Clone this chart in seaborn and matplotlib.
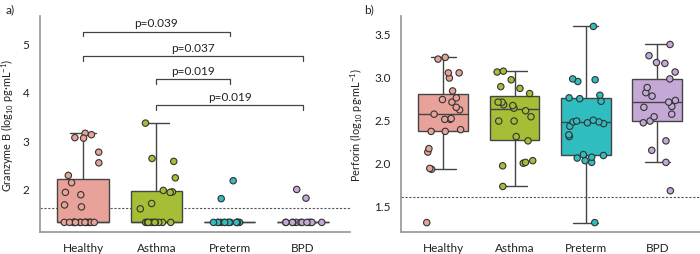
import numpy as np
import pandas as pd
import seaborn as sns
import matplotlib.pyplot as plt

# ------------------------------------------------------------
# data (log10 pg/mL)
# ------------------------------------------------------------
groups = ['Healthy', 'Asthma', 'Preterm', 'BPD']
colors = ['#E9A29A', '#A4BE36', '#2FBDBF', '#C4A8D6']

# panel a) granzyme B
gzb_healthy = [3.14, 3.11, 3.05, 3.04, 2.75, 2.53, 2.27, 2.12, 1.92, 1.87, 1.66, 1.62] + [1.3] * 15
gzb_asthma = [3.35, 2.62, 2.56, 2.22, 1.96, 1.93, 1.92, 1.69, 1.58] + [1.3] * 10
gzb_preterm = [2.16, 1.79] + [1.3] * 14
gzb_bpd = [1.98, 1.80] + [1.3] * 12

# panel b) perforin
prf_healthy = [1.30, 1.92, 1.93, 2.12, 2.16, 2.36, 2.36, 2.38, 2.50, 2.50, 2.51, 2.56,
               2.61, 2.64, 2.70, 2.73, 2.75, 2.83, 2.98, 3.04, 3.04, 3.20, 3.22]
prf_asthma = [1.72, 1.96, 1.99, 2.00, 2.02, 2.25, 2.30, 2.48, 2.48, 2.53, 2.60, 2.63,
              2.66, 2.67, 2.70, 2.70, 2.80, 2.86, 2.88, 2.96, 3.05, 3.06]
prf_preterm = [1.30, 2.00, 2.02, 2.05, 2.06, 2.08, 2.09, 2.30, 2.32, 2.42, 2.45, 2.46,
               2.47, 2.47, 2.48, 2.49, 2.71, 2.74, 2.75, 2.78, 2.94, 2.96, 2.97, 3.58]
prf_bpd = [1.67, 2.00, 2.14, 2.25, 2.46, 2.48, 2.53, 2.56, 2.64, 2.65, 2.70, 2.72,
           2.77, 2.81, 2.87, 2.97, 3.05, 3.15, 3.16, 3.24, 3.37]

lod = 1.6

# significance brackets for panel a): (group from, group to, height, label)
brackets = [
    (0, 2, 5.24, 'p=0.039'),
    (0, 3, 4.73, 'p=0.037'),
    (1, 2, 4.26, 'p=0.019'),
    (1, 3, 3.72, 'p=0.019'),
]


def to_long(vals_list):
    rows = []
    for g, vals in zip(groups, vals_list):
        for v in vals:
            rows.append((g, v))
    return pd.DataFrame(rows, columns=['group', 'value'])


def draw_panel(ax, df, whis):
    sns.boxplot(data=df, x='group', y='value', hue='group', order=groups,
                hue_order=groups, palette=colors, saturation=1, width=0.7,
                whis=whis, showfliers=False, linecolor='#444444', linewidth=1,
                legend=False, ax=ax)
    sns.stripplot(data=df, x='group', y='value', hue='group', order=groups,
                  hue_order=groups, palette=colors, jitter=0.27, size=4.6,
                  edgecolor='#333333', linewidth=0.8, legend=False, ax=ax)
    ax.axhline(lod, color='#555555', lw=0.8, ls=(0, (2, 1.5)), zorder=0)
    ax.set_xlabel('')
    for side in ['top', 'right']:
        ax.spines[side].set_visible(False)
    for side in ['left', 'bottom']:
        ax.spines[side].set_color('#999999')
    ax.tick_params(colors='#999999', labelcolor='#222222', length=4, labelsize=8.5)


sns.set_theme(style='white')
plt.rcParams['font.family'] = ['Lato', 'DejaVu Sans']
plt.rcParams['mathtext.fontset'] = 'custom'
plt.rcParams['mathtext.rm'] = 'Lato'
plt.rcParams['mathtext.it'] = 'Lato:italic'
np.random.seed(3)

fig = plt.figure(figsize=(7, 2.55), dpi=100)
ax1 = fig.add_axes([0.057, 0.086, 0.443, 0.847])
ax2 = fig.add_axes([0.573, 0.086, 0.427, 0.847])

df_a = to_long([gzb_healthy, gzb_asthma, gzb_preterm, gzb_bpd])
df_b = to_long([prf_healthy, prf_asthma, prf_preterm, prf_bpd])

draw_panel(ax1, df_a, 2.2)
draw_panel(ax2, df_b, 1.5)

ax1.set_ylim(1.1, 5.56)
ax1.set_xlim(-0.59, 3.64)
ax1.set_yticks([2, 3, 4, 5])
ax1.set_ylabel('Granzyme B (log$_{\\mathrm{10}}$ pg·mL$^{\\mathrm{-1}}$)', fontsize=7.8, color='#222222')
ax1.yaxis.set_label_coords(-0.078, 0.5)

ax2.set_ylim(1.19, 3.70)
ax2.set_xlim(-0.59, 3.6)
ax2.set_yticks([1.5, 2.0, 2.5, 3.0, 3.5])
ax2.set_yticklabels(['1.5', '2.0', '2.5', '3.0', '3.5'])
ax2.set_ylabel('Perforin (log$_{\\mathrm{10}}$ pg·mL$^{\\mathrm{-1}}$)', fontsize=7.8, color='#222222')
ax2.yaxis.set_label_coords(-0.12, 0.5)

# brackets
for i, j, h, lab in brackets:
    ax1.plot([i, i, j, j], [h - 0.1, h, h, h - 0.1], color='#444444', lw=0.9)
    ax1.text((i + j) / 2, h + 0.07, lab, ha='center', va='bottom', fontsize=8.5, color='#222222')

fig.text(0.008, 0.985, 'a)', ha='left', va='top', fontsize=8.5, color='#222222')
fig.text(0.52, 0.985, 'b)', ha='left', va='top', fontsize=8.5, color='#222222')

fig.savefig('out.png', dpi=100)
